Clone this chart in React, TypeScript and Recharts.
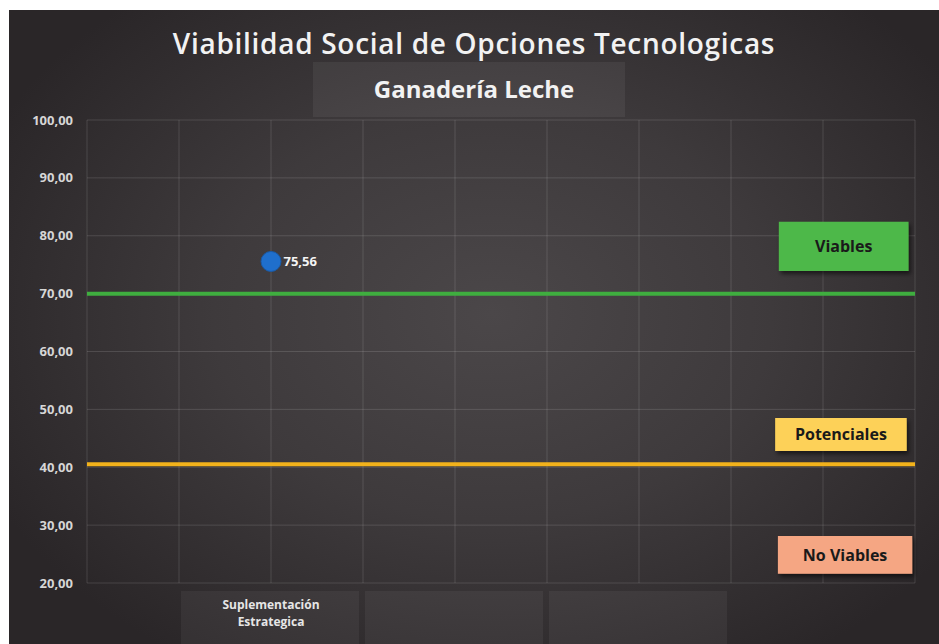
import {
  CartesianGrid,
  LabelList,
  ReferenceArea,
  ReferenceLine,
  Scatter,
  ScatterChart,
  XAxis,
  YAxis,
} from "recharts";

const categories = ["Suplementación Estrategica"];
const categoryX = [2];
const scores = [75.56];

const xTicks = [0, 1, 2, 3, 4, 5, 6, 7, 8, 9];
const yTicks = [20, 30, 40, 50, 60, 70, 80, 90, 100];
const labelBoxTicks = [2, 4, 6];

const thresholds = [70, 40.5];
const thresholdColors = ["#3fae3f", "#f2b21b"];

const zoneNames = ["Viables", "Potenciales", "No Viables"];
const zoneX = [
  [7.52, 8.93],
  [7.48, 8.91],
  [7.51, 8.97],
];
const zoneY = [
  [73.9, 82.4],
  [42.8, 48.5],
  [21.6, 28.1],
];
const zoneColors = ["#4db848", "#fdd159", "#f5a683"];

const data = categories.map((name, i) => ({
  name,
  x: categoryX[i],
  y: scores[i],
}));

const fmt = (v: number) => v.toFixed(2).replace(".", ",");
const font = "'Open Sans', sans-serif";

const XTick = (props: any) => {
  const { x, y, payload } = props;
  if (!labelBoxTicks.includes(payload.value)) return null;
  const idx = categoryX.indexOf(payload.value);
  const words = idx >= 0 ? categories[idx].split(" ") : [];
  return (
    <g>
      <rect x={x - 90} y={y + 6} width={178} height={57} fill="rgba(255,255,255,0.05)" />
      {words.map((w, i) => (
        <text
          key={w}
          x={x}
          y={y + 24 + i * 17}
          textAnchor="middle"
          fill="#e6e6e6"
          fontSize={12}
          fontWeight={700}
          fontFamily={font}
        >
          {w}
        </text>
      ))}
    </g>
  );
};

const Dot = (props: any) => (
  <circle cx={props.cx} cy={props.cy} r={10} fill="#1f6fcc" stroke="#1a5aa6" strokeWidth={1} />
);

export default function App() {
  return (
    <div
      style={{
        position: "absolute",
        left: 9,
        top: 10,
        width: 930,
        height: 634,
        background:
          "radial-gradient(ellipse 60% 65% at 52% 48%, #4b4749 0%, #3e3a3c 50%, #2a2628 100%)",
        fontFamily: font,
      }}
    >
      <div
        style={{
          position: "absolute",
          left: 304,
          top: 52,
          width: 312,
          height: 55,
          background: "rgba(255,255,255,0.06)",
        }}
      />
      <div
        style={{
          position: "absolute",
          left: 0,
          width: 930,
          top: 14,
          textAlign: "center",
          color: "#f2f2f2",
          fontSize: 28,
          fontWeight: 600,
          letterSpacing: 0.7,
          lineHeight: "38px",
        }}
      >
        Viabilidad Social de Opciones Tecnologicas
      </div>
      <div
        style={{
          position: "absolute",
          left: 0,
          width: 930,
          top: 62,
          textAlign: "center",
          color: "#f2f2f2",
          fontSize: 24,
          fontWeight: 700,
          lineHeight: "34px",
        }}
      >
        Ganadería Leche
      </div>
      <div style={{ position: "absolute", left: 0, top: 0 }}>
        <ScatterChart
          width={930}
          height={634}
          margin={{ top: 110, right: 24, left: 0, bottom: 0 }}
        >
          <defs>
            <filter id="shadow" x="-10%" y="-10%" width="130%" height="140%">
              <feDropShadow dx="2" dy="3" stdDeviation="2" floodColor="#000" floodOpacity="0.55" />
            </filter>
          </defs>
          <CartesianGrid stroke="rgba(255,255,255,0.13)" strokeWidth={1} />
          <XAxis
            type="number"
            dataKey="x"
            domain={[0, 9]}
            ticks={xTicks}
            interval={0}
            axisLine={false}
            tickLine={false}
            tickSize={0}
            height={61}
            tick={<XTick />}
          />
          <YAxis
            type="number"
            dataKey="y"
            domain={[20, 100]}
            ticks={yTicks}
            interval={0}
            width={78}
            axisLine={false}
            tickLine={false}
            tickSize={0}
            tickMargin={14}
            tickFormatter={fmt}
            tick={{ fill: "#d6d6d6", fontSize: 13, fontWeight: 700, fontFamily: font }}
          />
          {thresholds.map((t, i) => (
            <ReferenceLine
              key={t}
              y={t}
              stroke={thresholdColors[i]}
              strokeWidth={4}
              ifOverflow="extendDomain"
            />
          ))}
          {zoneNames.map((z, i) => (
            <ReferenceArea
              key={z}
              x1={zoneX[i][0]}
              x2={zoneX[i][1]}
              y1={zoneY[i][0]}
              y2={zoneY[i][1]}
              fill={zoneColors[i]}
              fillOpacity={1}
              stroke="none"
              style={{ filter: "url(#shadow)" }}
              label={{
                value: z,
                position: "center",
                fill: "#1a1a1a",
                fontSize: 16,
                fontWeight: 700,
                fontFamily: font,
              }}
            />
          ))}
          <Scatter data={data} shape={<Dot />} isAnimationActive={false}>
            <LabelList
              dataKey="y"
              position="right"
              offset={8}
              formatter={(v: any) => fmt(Number(v))}
              fill="#f4f4f4"
              fontSize={13}
              fontWeight={700}
              fontFamily={font}
            />
          </Scatter>
        </ScatterChart>
      </div>
    </div>
  );
}
